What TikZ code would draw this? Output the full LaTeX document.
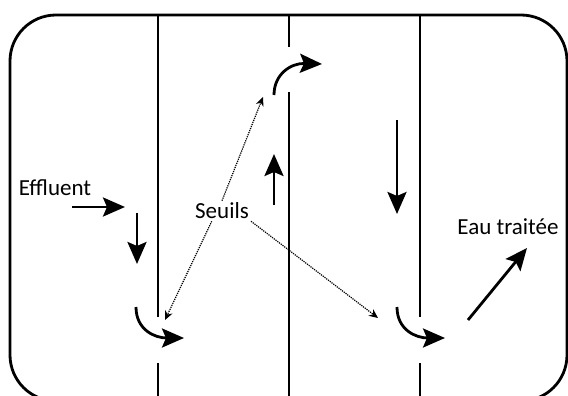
\documentclass[tikz,border=0pt]{standalone}
\usepackage{fontspec}
\setmainfont{Carlito}
\usetikzlibrary{arrows.meta, positioning}

\begin{document}
\begin{tikzpicture}[
    x=1pt, y=-1pt,
    wall/.style = {line width=2.8pt},
    flow/.style = {line width=2.8pt, -{Stealth[length=22pt, width=19pt, inset=4pt]}},
    pointer/.style = {densely dotted, line width=1.2pt, -{Stealth[length=9pt, width=8pt]}},
    txt/.style = {font=\fontsize{23}{27}\selectfont, inner sep=2pt},
]
\useasboundingbox (0,0) rectangle (568,396);
\clip (0,0) rectangle (568,396);

\draw[wall, rounded corners=46pt] (10,15) rectangle (567,401);

\draw[wall] (158,15) -- (158,317);
\draw[wall] (158,363) -- (158,401);
\draw[wall] (289,15) -- (289,47);
\draw[wall] (289,92) -- (289,401);
\draw[wall] (420,15) -- (420,317);
\draw[wall] (420,363) -- (420,401);

\node(Effluent)[txt] at (55,188) {Effluent};
\node(Seuils)[txt, fill=white] at (222,211) {Seuils};
\node(Eau)[txt] at (508,227) {Eau traitée};

\coordinate (inStart) at (72,207);
\coordinate (inEnd) at (125,207);
\draw[flow] (inStart) -- (inEnd);

\coordinate (downOneStart) at (137,213);
\coordinate (downOneEnd) at (137,264);
\draw[flow] (downOneStart) -- (downOneEnd);

\coordinate (passOneStart) at (136,307);
\coordinate (passOneEnd) at (184,338);
\draw[flow] (passOneStart) .. controls (136,330) and (155,338) .. (passOneEnd);

\coordinate (upStart) at (274,205);
\coordinate (upEnd) at (274,154);
\draw[flow] (upStart) -- (upEnd);

\coordinate (passTwoStart) at (274,95);
\coordinate (passTwoEnd) at (322,64);
\draw[flow] (passTwoStart) .. controls (274,74) and (291,63) .. (passTwoEnd);

\coordinate (downTwoStart) at (397,120);
\coordinate (downTwoEnd) at (397,214);
\draw[flow] (downTwoStart) -- (downTwoEnd);

\coordinate (passThreeStart) at (397,307);
\coordinate (passThreeEnd) at (445,338);
\draw[flow] (passThreeStart) .. controls (397,330) and (416,338) .. (passThreeEnd);

\coordinate (outStart) at (468,320);
\coordinate (outEnd) at (527,248);
\draw[flow] (outStart) -- (outEnd);

\coordinate (weirOne) at (165,320);
\coordinate (weirTwo) at (263,97);
\coordinate (weirThree) at (378,318);
\draw[pointer] (Seuils.-135) -- (weirOne);
\draw[pointer] (Seuils.north) -- (weirTwo);
\draw[pointer] (Seuils.south east) -- (weirThree);

\end{tikzpicture}
\end{document}
